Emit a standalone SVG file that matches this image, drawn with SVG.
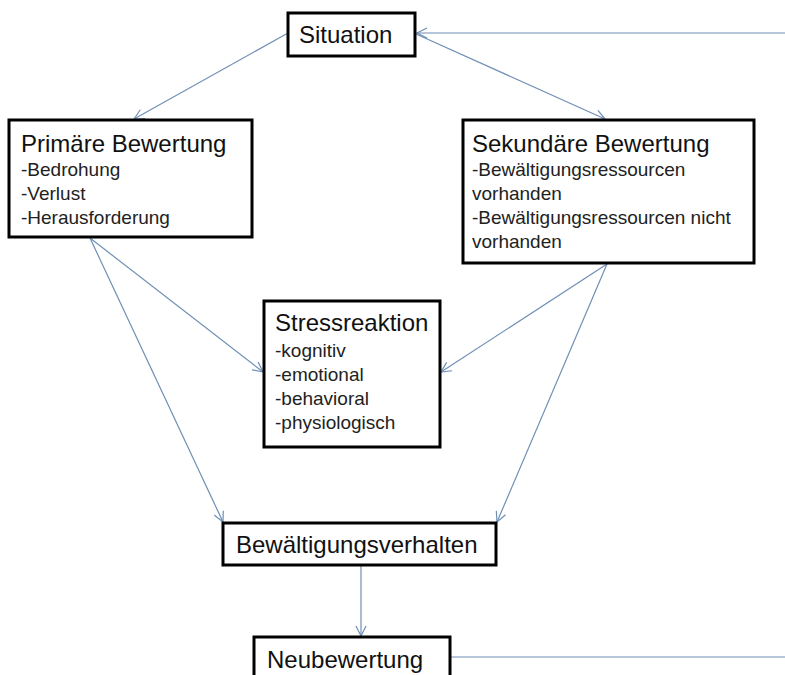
<svg xmlns="http://www.w3.org/2000/svg" width="785" height="675" viewBox="0 0 785 675">
<defs>
<style>
.box{fill:#fff;stroke:#000;stroke-width:3}
.t{font-family:"Liberation Sans",Arial,sans-serif;font-size:24px;fill:#111}
.s{font-family:"Liberation Sans",Arial,sans-serif;font-size:19px;fill:#222}
.c{stroke:#6f8fb5;stroke-width:1.2;fill:none}
</style>
<marker id="ah" viewBox="0 0 12 12" refX="11" refY="6" markerWidth="12" markerHeight="12" markerUnits="userSpaceOnUse" orient="auto">
<path d="M1,1 L11,6 L1,11" fill="none" stroke="#6f8fb5" stroke-width="1.2"/>
</marker>
</defs>
<rect width="785" height="675" fill="#fff"/>
<g id="connectors">
<line class="c" x1="785" y1="33" x2="417" y2="33" marker-end="url(#ah)"/>
<line class="c" x1="288" y1="33" x2="134" y2="119" marker-end="url(#ah)"/>
<line class="c" x1="416" y1="34" x2="605" y2="119" marker-end="url(#ah)"/>
<line class="c" x1="90" y1="238" x2="263" y2="372" marker-end="url(#ah)"/>
<line class="c" x1="90" y1="238" x2="223" y2="522" marker-end="url(#ah)"/>
<line class="c" x1="607" y1="264" x2="441" y2="372" marker-end="url(#ah)"/>
<line class="c" x1="607" y1="264" x2="497" y2="522" marker-end="url(#ah)"/>
<line class="c" x1="361" y1="566" x2="361" y2="636" marker-end="url(#ah)"/>
<line class="c" x1="451" y1="657" x2="785" y2="657"/>
</g>
<g id="situation">
<rect class="box" x="288" y="13" width="127" height="43"/>
<text class="t" x="299" y="43">Situation</text>
</g>
<g id="primaere">
<rect class="box" x="9" y="120" width="243" height="117"/>
<text class="t" x="21" y="152">Primäre Bewertung</text>
<text class="s" x="21" y="176">-Bedrohung</text>
<text class="s" x="21" y="200">-Verlust</text>
<text class="s" x="21" y="224">-Herausforderung</text>
</g>
<g id="sekundaere">
<rect class="box" x="463" y="120" width="291" height="143"/>
<text class="t" x="472" y="152">Sekundäre Bewertung</text>
<text class="s" x="472" y="176">-Bewältigungsressourcen</text>
<text class="s" x="472" y="200">vorhanden</text>
<text class="s" x="472" y="224">-Bewältigungsressourcen nicht</text>
<text class="s" x="472" y="248">vorhanden</text>
</g>
<g id="stressreaktion">
<rect class="box" x="264" y="301" width="176" height="146"/>
<text class="t" x="275" y="331">Stressreaktion</text>
<text class="s" x="275" y="357">-kognitiv</text>
<text class="s" x="275" y="381">-emotional</text>
<text class="s" x="275" y="405">-behavioral</text>
<text class="s" x="275" y="429">-physiologisch</text>
</g>
<g id="bewaeltigung">
<rect class="box" x="223" y="523" width="273" height="42"/>
<text class="t" x="236" y="553">Bewältigungsverhalten</text>
</g>
<g id="neubewertung">
<rect class="box" x="254" y="637" width="196" height="50"/>
<text class="t" x="267" y="668">Neubewertung</text>
</g>
</svg>
